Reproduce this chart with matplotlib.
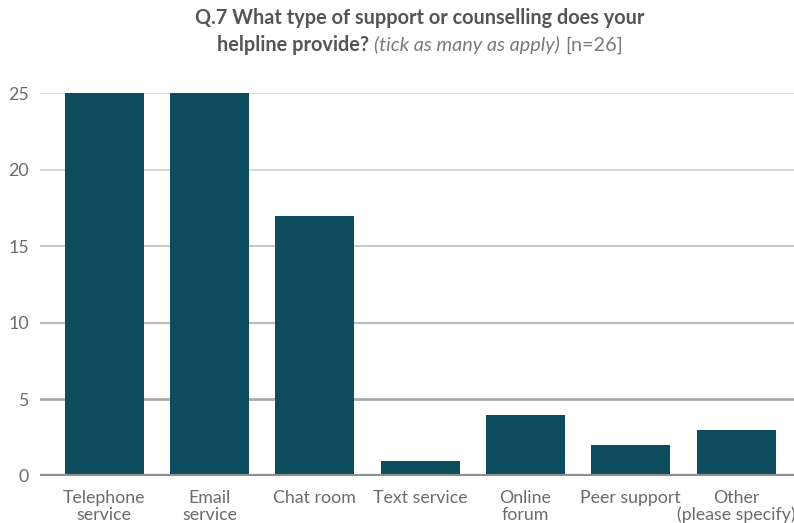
import matplotlib.pyplot as plt
import numpy as np

# Datos del grafico
categorias = ['Telephone\nservice', 'Email\nservice', 'Chat room', 'Text service',
              'Online\nforum', 'Peer support', 'Other\n(please specify)']
valores = [25, 25, 17, 1, 4, 2, 3]
marcas_y = [0, 5, 10, 15, 20, 25]

color_barra = '#0d4c5d'
color_texto = '#6b6b6b'
plt.rcParams['font.family'] = ['Lato', 'DejaVu Sans']

fig = plt.figure(figsize=(7.94, 5.23), dpi=100)
ax = fig.add_axes([40/794, 47/523, 754/794, 383/523])

x = np.arange(len(categorias))
ax.bar(x, valores, width=0.75, color=color_barra, zorder=3)

# lineas de la grilla, mas oscuras hacia abajo
colores_grilla = ['#8e8e8e', '#ababab', '#bdbdbd', '#c8c8c8', '#d2d2d2', '#dadada']
anchos_grilla = [3.0, 2.0, 1.6, 1.4, 1.3, 1.3]
for v, c, w in zip(marcas_y, colores_grilla, anchos_grilla):
    ax.axhline(v, color=c, linewidth=w, zorder=1 if v else 4)

ax.set_xlim(-0.61, 6.55)
ax.set_ylim(0, 25)
ax.set_yticks(marcas_y)
ax.set_xticks(x)
ax.set_xticklabels(categorias, fontsize=12.8, color=color_texto, linespacing=1.05)
ax.tick_params(axis='y', labelsize=12.8, labelcolor=color_texto, length=0, pad=8)
ax.tick_params(axis='x', length=0, pad=10)
for s in ax.spines.values():
    s.set_visible(False)

# titulo
xc = 0.529
fig.text(xc, 1 - 18/523, 'Q.7 What type of support or counselling does your',
         ha='center', va='center', fontsize=14.3, fontweight='bold', color='#555555')
partes = [('helpline provide? ', dict(fontweight='bold', color='#555555')),
          ('(tick as many as apply) ', dict(style='italic', color='#7a7a7a')),
          ('[n=26]', dict(color='#7a7a7a'))]
y2 = 1 - 45/523
textos = [fig.text(0, y2, t, ha='left', va='center', fontsize=14.3, **kw) for t, kw in partes]
fig.canvas.draw()
r = fig.canvas.get_renderer()
anchos = [t.get_window_extent(r).width for t in textos]
x0 = xc * fig.bbox.width - sum(anchos) / 2
for t, w in zip(textos, anchos):
    t.set_x(x0 / fig.bbox.width)
    x0 += w

fig.savefig('out.png', dpi=100)
